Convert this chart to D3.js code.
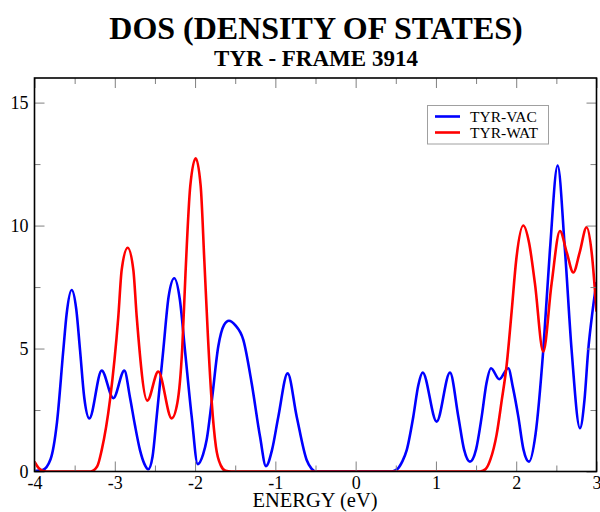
<!DOCTYPE html>
<html>
<head>
<meta charset="utf-8">
<script src="https://cdn.jsdelivr.net/npm/d3@7/dist/d3.min.js"></script>
<style>
  html, body { margin: 0; padding: 0; background: #fff; }
  svg { display: block; }
  text { font-family: "Liberation Serif", "Times New Roman", serif; }
</style>
</head>
<body>
<svg id="chart" width="600" height="512"></svg>
<script>
// Density of states, energy in eV
const vacEnergy = [-4.00, -3.90, -3.80, -3.72, -3.641, -3.60, -3.537, -3.48, -3.433, -3.38, -3.317,
  -3.163, -3.018, -2.881, -2.81, -2.75, -2.686, -2.63, -2.583, -2.53, -2.478, -2.396, -2.33, -2.259,
  -2.19, -2.126, -2.042, -1.967, -1.90, -1.855, -1.793, -1.71, -1.64, -1.578, -1.50, -1.399, -1.295,
  -1.191, -1.117, -1.04, -0.963, -0.847, -0.734, -0.61, -0.55, -0.50, 0.00, 0.45, 0.52, 0.58, 0.636,
  0.718, 0.78, 0.835, 1.009, 1.175, 1.279, 1.35, 1.424, 1.50, 1.57, 1.63, 1.686, 1.789, 1.901, 1.96,
  2.026, 2.09, 2.159, 2.24, 2.337, 2.42, 2.516, 2.607, 2.69, 2.794, 2.85, 2.897, 2.95, 3.00];
const vacDos = [0.02, 0.06, 0.5, 2.0, 4.94, 6.4, 7.38, 6.6, 4.94, 3.0, 2.16,
  4.10, 2.98, 4.10, 3.0, 1.9, 0.87, 0.3, 0.09, 0.6, 2.23, 4.94, 7.1, 7.86,
  7.0, 4.94, 2.23, 0.3, 0.7, 1.3, 2.84, 5.1, 5.95, 6.13, 5.95, 5.35, 3.59,
  1.42, 0.22, 0.9, 2.23, 3.99, 2.23, 0.47, 0.12, 0.0, 0.0, 0.0, 0.1, 0.4, 0.87,
  2.23, 3.5, 4.02, 2.03, 4.02, 2.23, 0.9, 0.4, 0.9, 2.23, 3.6, 4.2, 3.75, 4.2, 3.4,
  2.23, 0.9, 0.4, 1.5, 4.94, 9.0, 12.44, 9.0, 4.94, 1.76, 2.9, 4.94, 6.5, 7.7];

const watEnergy = [-4.00, -3.95, -3.90, -3.85, -3.30, -3.22, -3.163, -3.06, -2.956, -2.914, -2.839,
  -2.769, -2.727, -2.595, -2.458, -2.291, -2.22, -2.16, -2.12, -2.06, -1.992, -1.93, -1.885, -1.84,
  -1.793, -1.74, -1.68, -1.62, -1.55, 0.00, 1.55, 1.62, 1.68, 1.756, 1.82, 1.88, 1.943, 2.00, 2.088,
  2.16, 2.233, 2.337, 2.441, 2.545, 2.63, 2.711, 2.79, 2.877, 2.94, 3.00];
const watDos = [0.4, 0.15, 0.03, 0.0, 0.0, 0.2, 0.87, 2.9, 6.3, 8.2, 9.10,
  8.2, 6.3, 2.88, 4.06, 2.16, 2.8, 5.0, 8.0, 11.6, 12.74, 11.6, 8.6, 5.5,
  2.84, 1.0, 0.25, 0.03, 0.0, 0.0, 0.0, 0.1, 0.5, 1.5, 2.9, 4.3, 6.5, 8.6, 10.0,
  9.3, 7.65, 4.87, 7.65, 9.78, 8.9, 8.09, 8.9, 9.93, 8.9, 6.5];

const seriesNames = ["TYR-VAC", "TYR-WAT"];
const seriesColors = ["#0000ff", "#ff0000"];
const xTicks = [-4, -3, -2, -1, 0, 1, 2, 3];
const yTicks = [0, 5, 10, 15];

const W = 600, H = 512;
const margin = { left: 34.5, right: 3.5, top: 78, bottom: 40.5 };
const x = d3.scaleLinear().domain([-4, 3]).range([margin.left, W - margin.right]);
const y = d3.scaleLinear().domain([0, 16]).range([H - margin.bottom, margin.top]);

const svg = d3.select("#chart");

// Titles
svg.append("text").attr("x", 316).attr("y", 39).attr("text-anchor", "middle")
  .attr("font-size", 32).attr("font-weight", "bold").text("DOS (DENSITY OF STATES)");
svg.append("text").attr("x", 316).attr("y", 66).attr("text-anchor", "middle")
  .attr("font-size", 23).attr("font-weight", "bold").text("TYR - FRAME 3914");

// Curves, clipped to the plot box
svg.append("clipPath").attr("id", "plotClip").append("rect")
  .attr("x", x(-4)).attr("y", y(16)).attr("width", x(3) - x(-4)).attr("height", y(0) - y(16));

const line = d3.line().x(d => x(d[0])).y(d => y(d[1])).curve(d3.curveMonotoneX);
const series = [d3.zip(vacEnergy, vacDos), d3.zip(watEnergy, watDos)];
const plot = svg.append("g").attr("clip-path", "url(#plotClip)");
series.forEach((pts, i) => {
  plot.append("path").datum(pts).attr("d", line).attr("fill", "none")
    .attr("stroke", seriesColors[i]).attr("stroke-width", 2.6).attr("stroke-linejoin", "round");
});

// Axes with inward ticks on all four sides
const minorX = d3.range(-3.5, 3, 1);
const minorY = [2.5, 7.5, 12.5];
const tickStyle = g => {
  g.select(".domain").remove();
  g.selectAll(".tick line").attr("stroke", "#808080").attr("stroke-width", 1);
  g.selectAll(".tick text").attr("font-size", 18).attr("fill", "#000")
    .attr("font-family", "'Liberation Serif', serif");
};
const bottomY = y(0), topY = y(16), leftX = x(-4), rightX = x(3);

svg.append("g").attr("transform", `translate(0,${bottomY})`)
  .call(d3.axisBottom(x).tickValues(minorX).tickSize(-6).tickFormat("")).call(tickStyle);
svg.append("g").attr("transform", `translate(0,${bottomY})`)
  .call(d3.axisBottom(x).tickValues(xTicks).tickSize(-10).tickPadding(5).tickFormat(d => String(d)))
  .call(tickStyle);
svg.append("g").attr("transform", `translate(0,${topY})`)
  .call(d3.axisTop(x).tickValues(minorX).tickSize(-6).tickFormat("")).call(tickStyle);
svg.append("g").attr("transform", `translate(0,${topY})`)
  .call(d3.axisTop(x).tickValues(xTicks).tickSize(-10).tickFormat("")).call(tickStyle);

svg.append("g").attr("transform", `translate(${leftX},0)`)
  .call(d3.axisLeft(y).tickValues(minorY).tickSize(-6).tickFormat("")).call(tickStyle);
svg.append("g").attr("transform", `translate(${leftX},0)`)
  .call(d3.axisLeft(y).tickValues(yTicks).tickSize(-10).tickPadding(6).tickFormat(d => String(d)))
  .call(tickStyle);
svg.append("g").attr("transform", `translate(${rightX},0)`)
  .call(d3.axisRight(y).tickValues(minorY).tickSize(-6).tickFormat("")).call(tickStyle);
svg.append("g").attr("transform", `translate(${rightX},0)`)
  .call(d3.axisRight(y).tickValues(yTicks).tickSize(-10).tickFormat("")).call(tickStyle);

// Frame
svg.append("rect").attr("x", leftX).attr("y", topY).attr("width", rightX - leftX)
  .attr("height", bottomY - topY).attr("fill", "none").attr("stroke", "#000").attr("stroke-width", 1.6);

// Axis title
svg.append("text").attr("x", 315).attr("y", 507).attr("text-anchor", "middle")
  .attr("font-size", 20.5).text("ENERGY (eV)");

// Legend
const legend = svg.append("g");
legend.append("rect").attr("x", 427.5).attr("y", 105.5).attr("width", 121).attr("height", 38.5)
  .attr("fill", "#fff").attr("stroke", "#a0a0a0").attr("stroke-width", 1);
seriesNames.forEach((name, i) => {
  const ly = 116.5 + i * 16;
  legend.append("line").attr("x1", 435).attr("x2", 460).attr("y1", ly).attr("y2", ly)
    .attr("stroke", seriesColors[i]).attr("stroke-width", 2.6);
  legend.append("text").attr("x", 470).attr("y", ly + 5.5).attr("font-size", 15.5).text(name);
});
</script>
</body>
</html>
